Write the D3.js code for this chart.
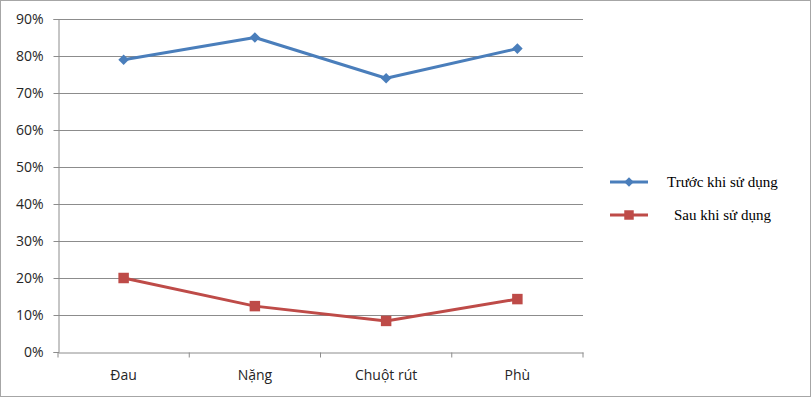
<!DOCTYPE html>
<html>
<head>
<meta charset="utf-8">
<script src="https://d3js.org/d3.v7.min.js"></script>
<style>
  body { margin: 0; background: #fff; }
</style>
</head>
<body>
<svg width="811" height="397"></svg>
<script>
var categories = ["Đau", "Nặng", "Chuột rút", "Phù"];
var truoc = [0.79, 0.85, 0.74, 0.82];
var sau = [0.20, 0.124, 0.084, 0.143];
var seriesNames = ["Trước khi sử dụng", "Sau khi sử dụng"];
var yTicks = [0, 0.1, 0.2, 0.3, 0.4, 0.5, 0.6, 0.7, 0.8, 0.9];

var svg = d3.select("svg");
svg.append("rect").attr("x", 0.5).attr("y", 0.5).attr("width", 810).attr("height", 396)
  .attr("fill", "#fff").attr("stroke", "#a6a6a6");

var x = d3.scaleBand().domain(categories).range([58, 583]);
var y = d3.scaleLinear().domain([0, 0.9]).range([352, 19]);

// gridlines
svg.append("g").selectAll("line").data(yTicks.slice(1)).join("line")
  .attr("x1", 58).attr("x2", 583)
  .attr("y1", function(d) { return Math.round(y(d)) + 0.5; })
  .attr("y2", function(d) { return Math.round(y(d)) + 0.5; })
  .attr("stroke", "#8c8c8c").attr("stroke-width", 1.2);

var yAxis = svg.append("g").attr("transform", "translate(58.5,0)")
  .call(d3.axisLeft(y).tickValues(yTicks).tickFormat(d3.format(".0%")).tickSize(5).tickPadding(10));
var xAxis = svg.append("g").attr("transform", "translate(0,352.5)")
  .call(d3.axisBottom(x).tickSize(0).tickPadding(18));
xAxis.selectAll(".tick").append("line")
  .attr("x1", x.bandwidth() / 2).attr("x2", x.bandwidth() / 2).attr("y2", 5)
  .attr("stroke", "#8c8c8c");
xAxis.append("line").attr("x1", 58).attr("x2", 58).attr("y2", 5).attr("stroke", "#8c8c8c");

[yAxis, xAxis].forEach(function(a) {
  a.selectAll("path, line").attr("stroke", "#8c8c8c");
  a.selectAll("text").attr("fill", "#262626").style("font-family", "'Open Sans', sans-serif").style("font-size", "14px");
});

var line = d3.line()
  .x(function(d, i) { return x(categories[i]) + x.bandwidth() / 2; })
  .y(function(d) { return y(d); });

var colors = ["#4a7ebb", "#be4b48"];
var data = [truoc, sau];

function marker(k, size) {
  return d3.symbol().type(d3.symbolSquare).size(size)();
}

data.forEach(function(vals, k) {
  svg.append("path").attr("d", line(vals)).attr("fill", "none")
    .attr("stroke", colors[k]).attr("stroke-width", 3).attr("stroke-linejoin", "round");
  svg.append("g").selectAll("path").data(vals).join("path")
    .attr("transform", function(d, i) {
      return "translate(" + (x(categories[i]) + x.bandwidth() / 2) + "," + y(d) + ")" + (k === 0 ? " rotate(45)" : "");
    })
    .attr("d", marker(k, k === 0 ? 56 : 110))
    .attr("fill", colors[k]);
});

// legend
var legY = [182, 215];
var legTextX = [667, 674];
seriesNames.forEach(function(name, k) {
  var g = svg.append("g");
  g.append("line").attr("x1", 610).attr("x2", 648).attr("y1", legY[k]).attr("y2", legY[k])
    .attr("stroke", colors[k]).attr("stroke-width", 3);
  g.append("path").attr("transform", "translate(629," + legY[k] + ")" + (k === 0 ? " rotate(45)" : ""))
    .attr("d", marker(k, k === 0 ? 45 : 90))
    .attr("fill", colors[k]);
  g.append("text").attr("x", legTextX[k]).attr("y", legY[k] + 5)
    .attr("fill", "#000").style("font-family", "'Liberation Serif', serif").style("font-size", "15px")
    .text(name);
});
</script>
</body>
</html>
